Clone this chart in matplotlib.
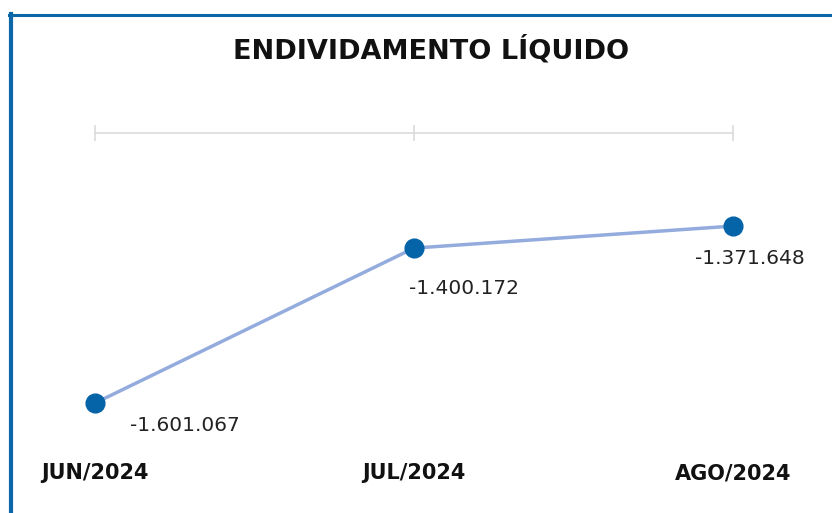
import matplotlib.pyplot as plt
from matplotlib.lines import Line2D

months = ['JUN/2024', 'JUL/2024', 'AGO/2024']
values = [-1601067, -1400172, -1371648]
labels = ['-1.601.067', '-1.400.172', '-1.371.648']
# label offsets (points) from each marker
offsets = [(65, -16), (36, -29), (12, -23)]

W, H = 832, 513
fig = plt.figure(figsize=(W / 100, H / 100), dpi=100)
ax = fig.add_axes([95 / W, 1 - 430 / H, (733 - 95) / W, (430 - 133) / H])

x = list(range(len(months)))
ax.plot(x, values, color='#93ABDD', lw=2.5, zorder=2, clip_on=False)
ax.plot(x, values, 'o', color='#0563A8', ms=13.5, zorder=3, clip_on=False)

for xi, v, lab, off in zip(x, values, labels, offsets):
    ax.annotate(lab, (xi, v), xytext=off, textcoords='offset points',
                ha='center', va='center', fontsize=14.5, color='#222222')

ax.set_xlim(0, 2)
ax.set_ylim(-1636000, -1251000)
ax.set_yticks([])
ax.set_xticks(x)
ax.set_xticklabels(months, fontsize=15, fontweight='bold', color='#111111')
ax.tick_params(axis='x', top=True, bottom=False, labeltop=False, labelbottom=True,
               direction='inout', length=12, width=1.1, color='#D9D9D9', pad=18)
for side in ['left', 'right', 'bottom']:
    ax.spines[side].set_visible(False)
ax.spines['top'].set_color('#D9D9D9')
ax.spines['top'].set_linewidth(1.1)
ax.patch.set_alpha(0)

fig.text(431 / W, 1 - 50 / H, 'ENDIVIDAMENTO LÍQUIDO', ha='center', va='center',
         fontsize=19.5, fontweight='bold', color='#111111')

border = '#0B67A8'
fig.add_artist(Line2D([11 / W, 11 / W], [0, 1 - 14 / H], color=border, lw=3,
                      transform=fig.transFigure))
fig.add_artist(Line2D([9 / W, 1], [1 - 15 / H, 1 - 15 / H], color=border, lw=2.2,
                      transform=fig.transFigure))

fig.savefig('out.png', dpi=100)
